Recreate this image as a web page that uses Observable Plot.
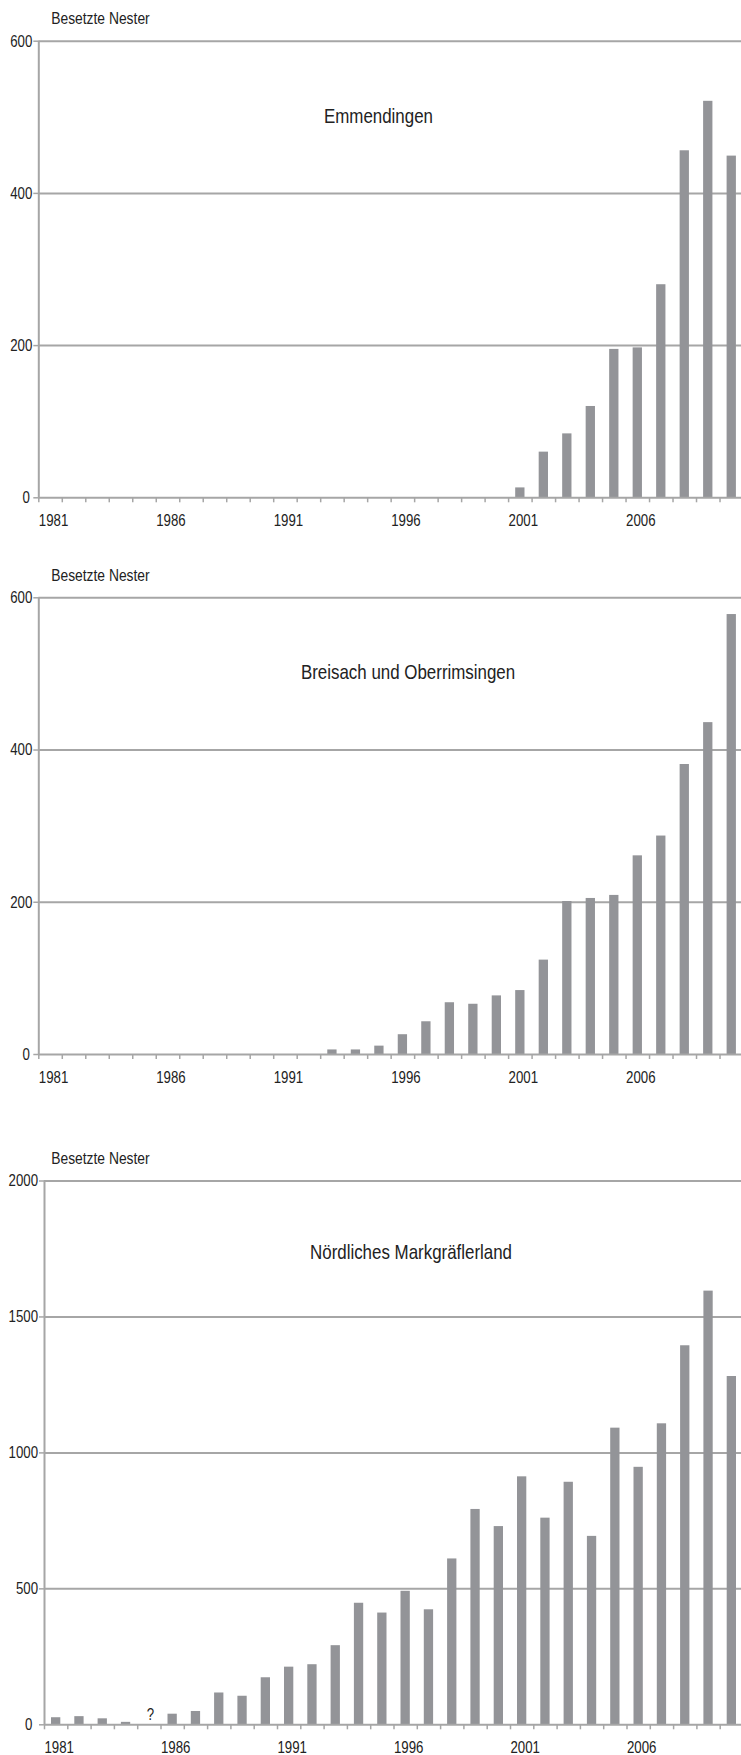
<!DOCTYPE html>
<html><head><meta charset="utf-8">
<script src="https://cdn.jsdelivr.net/npm/d3@7"></script>
<script src="https://cdn.jsdelivr.net/npm/@observablehq/plot@0.6"></script>
<style>
html,body{margin:0;padding:0;background:#fff;overflow:hidden;}
#root{position:relative;width:741px;height:1755px;overflow:hidden;background:#fff;}
.panel{position:absolute;left:0;}
</style></head><body><div id="root"></div>
<script>
// ---- data ----
const years = [1981,1982,1983,1984,1985,1986,1987,1988,1989,1990,
               1991,1992,1993,1994,1995,1996,1997,1998,1999,2000,
               2001,2002,2003,2004,2005,2006,2007,2008,2009,2010];
const yearLabels = [1981,1986,1991,1996,2001,2006];
const emmendingen = [0,0,0,0,0,0,0,0,0,0, 0,0,0,0,0,0,0,0,0,0,
                     13,60,84,120,195,197,280,456,521,449];
const breisach = [0,0,0,0,0,0,0,0,0,0, 0,0,6,6,11,26,43,68,66,77,
                  84,124,201,205,209,261,287,381,436,578];
const markgraefler = [26,30,22,9,null,39,49,117,105,173,
                      212,221,291,447,411,491,423,610,792,729,
                      912,760,892,693,1091,947,1107,1394,1595,1281];
const ticksSmall = [0,200,400,600];
const ticksLarge = [0,500,1000,1500,2000];
const yLabel = "Besetzte Nester";
const titles = ["Emmendingen","Breisach und Oberrimsingen","Nördliches Markgräflerland"];

// ---- style ----
const FONT = "'Liberation Sans Narrow','Arial Narrow','Liberation Sans',Arial,sans-serif";
const GRID = "#a6a6a6";
const BAR = "#939498";
const TEXT = "#222";
// horizontal condensing per font size (reference uses a narrow face)
const SQUEEZE = {"17px": 0.78, "16.5px": 0.84, "20.5px": 0.825};

function squeeze(svg){
  svg.querySelectorAll("text").forEach(t => {
    const fs = getComputedStyle(t).fontSize;
    const sx = SQUEEZE[fs];
    if (!sx) return;
    const x = parseFloat(t.getAttribute("x")) || 0;
    const T = t.getAttribute("transform") || "";
    t.setAttribute("transform", `${T} translate(${x},0) scale(${sx},1) translate(${-x},0)`);
  });
}

function panel(o){
  const data = years.map((y,i)=>({year:y, value:o.values[i]}));
  const W = 745;
  const xEnd = 743;
  const bw = (xEnd - o.marginLeft)/years.length;
  const yTicks = o.yTicks;
  const chart = Plot.plot({
    width: W,
    height: o.marginTop + o.plotH + o.marginBottom,
    marginTop: o.marginTop, marginBottom: o.marginBottom,
    marginLeft: o.marginLeft, marginRight: W - xEnd,
    style: {fontFamily: FONT, fontSize: "17px", color: TEXT, background: "transparent", maxWidth: "none", overflow: "visible"},
    x: {domain: [years[0], years[years.length-1] + 1], axis: null},
    y: {domain: [0, yTicks[yTicks.length-1]], axis: null},
    marks: [
      Plot.gridY(yTicks.slice(1), {stroke: GRID, strokeOpacity: 1, strokeWidth: 2}),
      Plot.rectY(data.filter(d => d.value != null), {x: "year", interval: 1, y: "value", fill: BAR,
        insetLeft: (bw - 9.3)/2, insetRight: (bw - 9.3)/2}),
      Plot.ruleX([years[0]], {stroke: GRID, strokeWidth: 2}),
      Plot.ruleY([0], {stroke: GRID, strokeWidth: 2}),
      Plot.axisX([...years, years[years.length-1]+1], {tickSize: 5, stroke: GRID, strokeWidth: 1.5, fill: "none", label: null}),
      Plot.axisX(yearLabels, {tickSize: 0, tickPadding: 16, tickFormat: "d", textAnchor: "start", fill: TEXT, label: null}),
      Plot.axisY(yTicks.slice(1), {tickSize: 5, tickPadding: 1.5, stroke: GRID, strokeWidth: 1.5, fill: TEXT, tickFormat: "d", label: null}),
      Plot.axisY([0], {tickSize: 5, tickPadding: o.zeroPad, stroke: GRID, strokeWidth: 1.5, fill: TEXT, tickFormat: "d", label: null}),
      Plot.text(data.filter(d => d.value == null), {x: "year", y: 0, text: () => "?", dx: bw/2 + 1, dy: -10, fill: TEXT, fontSize: 17}),
      Plot.text([yLabel], {frameAnchor: "top-left", dx: 50.7 - o.marginLeft, dy: -22.5, textAnchor: "start", lineAnchor: "middle", fill: TEXT, fontSize: 16.5}),
      Plot.text([o.title], {frameAnchor: "top", dx: o.titleDx, dy: o.titleDy, lineAnchor: "middle", fill: TEXT, fontSize: 20.5})
    ]
  });
  chart.classList.add("panel");
  chart.style.top = o.top + "px";
  document.getElementById("root").appendChild(chart);
  squeeze(chart);
}

panel({values: emmendingen, yTicks: ticksSmall, title: titles[0], top: 0,
  marginTop: 40.7, plotH: 456.6, marginBottom: 40, marginLeft: 38.3, titleDx: -12.7, titleDy: 75, zeroPad: 4});
panel({values: breisach, yTicks: ticksSmall, title: titles[1], top: 556,
  marginTop: 41.3, plotH: 456.7, marginBottom: 40, marginLeft: 38.3, titleDx: 16.9, titleDy: 75, zeroPad: 4});
panel({values: markgraefler, yTicks: ticksLarge, title: titles[2], top: 1130,
  marginTop: 50.5, plotH: 543.8, marginBottom: 30.7, marginLeft: 44, titleDx: 17, titleDy: 71, zeroPad: 7});
</script></body></html>
